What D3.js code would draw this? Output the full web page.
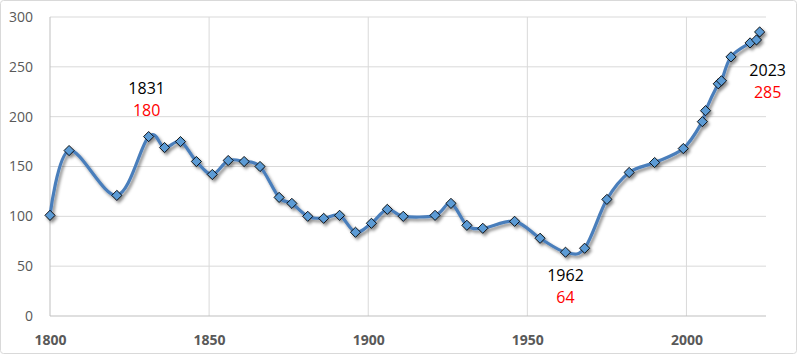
<!DOCTYPE html>
<html>
<head>
<meta charset="utf-8">
<script src="https://cdn.jsdelivr.net/npm/d3@7"></script>
<style>
  body { margin: 0; background: #fff; }
  svg { display: block; }
</style>
</head>
<body>
<svg id="chart"></svg>
<script>
// population by census year
let years = [1800, 1806, 1821, 1831, 1836, 1841, 1846, 1851, 1856, 1861, 1866, 1872, 1876, 1881, 1886, 1891, 1896, 1901, 1906, 1911, 1921, 1926, 1931, 1936, 1946, 1954, 1962, 1968, 1975, 1982, 1990, 1999, 2005, 2006, 2010, 2011, 2014, 2020, 2022, 2023];
let values = [101, 166, 121, 180, 169, 175, 155, 142, 156, 155, 150, 119, 113, 100, 98, 101, 84, 93, 107, 100, 101, 113, 91, 88, 95, 78, 64, 68, 117, 144, 154, 168, 195, 206, 233, 236, 260, 274, 277, 285];
let xTicks = [1800, 1850, 1900, 1950, 2000];
let yTicks = [0, 50, 100, 150, 200, 250, 300];
// highlighted points and where their labels go
let notes = [
    { year: 1831, value: 180, pos: "above" },
    { year: 1962, value: 64, pos: "below" },
    { year: 2023, value: 285, pos: "belowRight" }
];

let width = 800, height = 355;
let plotLeft = 50, plotRight = 766, plotTop = 17, plotBottom = 316;

let svg = d3.select("#chart").attr("width", width).attr("height", height);

// outer frame
svg.append("rect")
    .attr("x", 0.5).attr("y", 0.5)
    .attr("width", 796).attr("height", 353)
    .attr("rx", 3)
    .attr("fill", "#fff")
    .attr("stroke", "#d9d9d9");

let x = d3.scaleLinear().domain([1800, 2025]).range([plotLeft, plotRight]);
let y = d3.scaleLinear().domain([0, 300]).range([plotBottom, plotTop]);

let defs = svg.append("defs");
let shadow = defs.append("filter").attr("id", "shadow")
    .attr("x", "-5%").attr("y", "-5%").attr("width", "110%").attr("height", "120%");
shadow.append("feDropShadow")
    .attr("dx", 2).attr("dy", 2.5).attr("stdDeviation", 1.6)
    .attr("flood-color", "#000").attr("flood-opacity", 0.45);

// grid
svg.append("g").selectAll("line")
    .data(yTicks.slice(1))
    .enter().append("line")
    .attr("x1", plotLeft).attr("x2", plotRight)
    .attr("y1", d => y(d)).attr("y2", d => y(d))
    .attr("stroke", "#d9d9d9").attr("stroke-width", 1);

svg.append("g").selectAll("line")
    .data(xTicks.slice(1))
    .enter().append("line")
    .attr("x1", d => x(d)).attr("x2", d => x(d))
    .attr("y1", plotTop).attr("y2", plotBottom)
    .attr("stroke", "#d9d9d9").attr("stroke-width", 1);

// axes
let xAxis = svg.append("g")
    .attr("transform", "translate(0," + plotBottom + ")")
    .call(d3.axisBottom(x).tickValues(xTicks).tickFormat(d3.format("d")).tickSize(0).tickPadding(19));
xAxis.select(".domain").attr("stroke", "#bfbfbf").attr("d", "M" + plotLeft + ",0H" + plotRight);
xAxis.selectAll("text")
    .attr("fill", "#595959")
    .style("font-family", "'Open Sans', sans-serif")
    .style("font-size", "14px")
    .style("font-weight", "bold");

let yAxis = svg.append("g")
    .attr("transform", "translate(" + plotLeft + ",0)")
    .call(d3.axisLeft(y).tickValues(yTicks).tickSize(0).tickPadding(17));
yAxis.select(".domain").attr("stroke", "#bfbfbf").attr("d", "M0," + plotTop + "V" + plotBottom);
yAxis.selectAll("text")
    .attr("fill", "#595959")
    .style("font-family", "'Open Sans', sans-serif")
    .style("font-size", "14px");

let data = years.map((d, i) => ({ year: d, value: values[i] }));

let line = d3.line()
    .x(d => x(d.year))
    .y(d => y(d.value))
    .curve(d3.curveCardinal.tension(0));

let series = svg.append("g").attr("filter", "url(#shadow)");

series.append("path")
    .datum(data)
    .attr("d", line)
    .attr("fill", "none")
    .attr("stroke", "#4a7ebb")
    .attr("stroke-width", 3.2);

let diamond = d3.symbol().type(d3.symbolDiamond2).size(66);
series.selectAll("path.pt")
    .data(data)
    .enter().append("path")
    .attr("class", "pt")
    .attr("d", diamond)
    .attr("transform", d => "translate(" + x(d.year) + "," + y(d.value) + ")")
    .attr("fill", "#5b9bd5")
    .attr("stroke", "#000")
    .attr("stroke-width", 0.9);

// annotations
let labels = svg.append("g")
    .style("font-family", "'Open Sans', sans-serif")
    .style("font-size", "16px")
    .attr("text-anchor", "middle");

notes.forEach(function(n) {
    let cx = x(n.year), cy = y(n.value);
    let ty;
    if (n.pos === "above") { cx = cx - 2; ty = cy - 43; }
    else if (n.pos === "below") { ty = cy + 29; }
    else { cx = cx + 8; ty = cy + 44; }
    labels.append("text").attr("x", cx).attr("y", ty).attr("fill", "#000").text(n.year);
    labels.append("text").attr("x", cx).attr("y", ty + 22).attr("fill", "#ff0000").text(n.value);
});
</script>
</body>
</html>
